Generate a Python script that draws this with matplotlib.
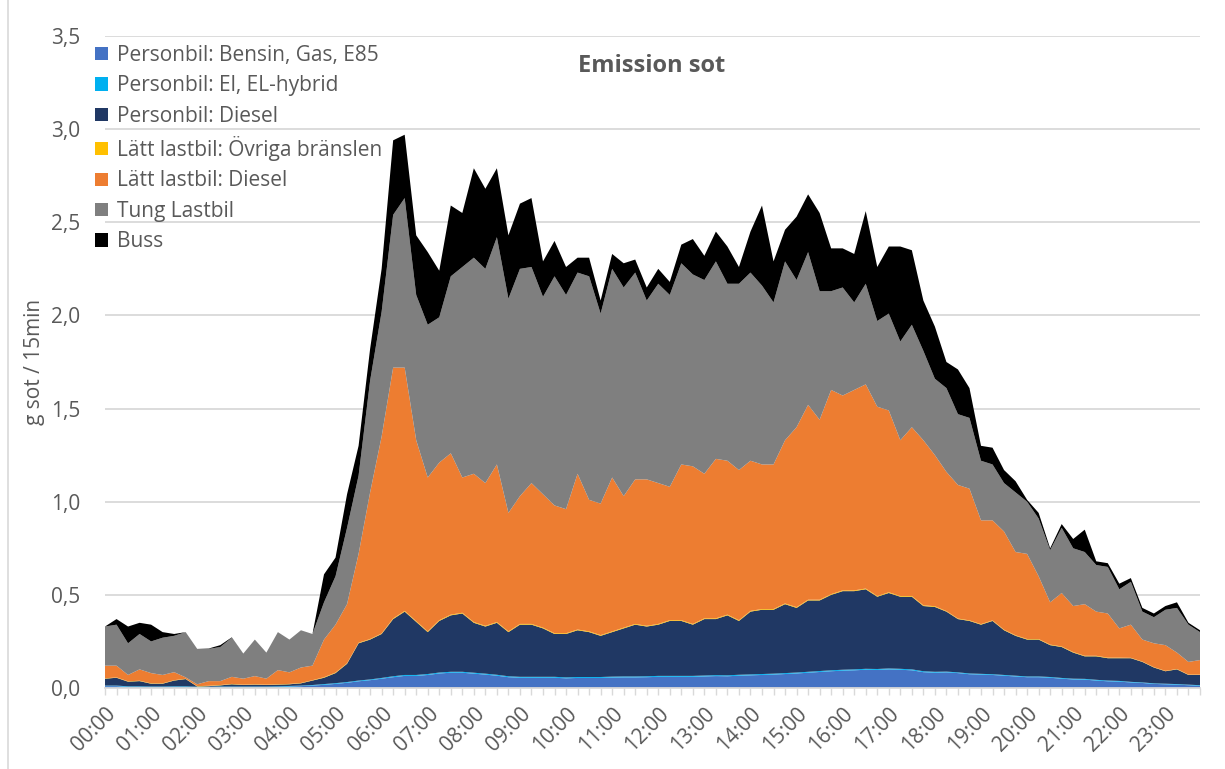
import numpy as np
import matplotlib
matplotlib.use("Agg")
import matplotlib.pyplot as plt
from matplotlib.patches import Patch

plt.rcParams['font.family'] = ['Open Sans', 'DejaVu Sans']

# 15-minute intervals over one day
times = [f"{h:02d}:{m:02d}" for h in range(24) for m in (0, 15, 30, 45)]
hour_labels = [f"{h:02d}:00" for h in range(24)]

series_names = [
    "Personbil: Bensin, Gas, E85",
    "Personbil: El, EL-hybrid",
    "Personbil: Diesel",
    "Lätt lastbil: Övriga bränslen",
    "Lätt lastbil: Diesel",
    "Tung Lastbil",
    "Buss",
]
series_colors = ["#4472C4", "#00B0F0", "#203864", "#FFC000", "#ED7D31", "#7F7F7F", "#000000"]

# g sot per 15 min
pb_bensin = [
    0.010, 0.010, 0.006, 0.006, 0.005, 0.005, 0.006, 0.006, 0.004, 0.004, 0.005, 0.005,
    0.005, 0.005, 0.005, 0.006, 0.008, 0.010, 0.013, 0.017, 0.022, 0.028, 0.036, 0.042,
    0.050, 0.058, 0.065, 0.065, 0.070, 0.078, 0.082, 0.082, 0.077, 0.072, 0.066, 0.058,
    0.055, 0.055, 0.055, 0.055, 0.052, 0.054, 0.054, 0.054, 0.056, 0.057, 0.057, 0.058,
    0.060, 0.060, 0.060, 0.060, 0.062, 0.064, 0.063, 0.066, 0.068, 0.070, 0.072, 0.075,
    0.078, 0.082, 0.086, 0.090, 0.093, 0.095, 0.098, 0.097, 0.100, 0.098, 0.095, 0.085,
    0.082, 0.084, 0.080, 0.074, 0.072, 0.070, 0.066, 0.062, 0.058, 0.058, 0.055, 0.050,
    0.046, 0.045, 0.040, 0.036, 0.034, 0.030, 0.027, 0.022, 0.020, 0.018, 0.015, 0.012,
]
pb_el = [
    0.003, 0.003, 0.003, 0.003, 0.003, 0.003, 0.003, 0.003, 0.003, 0.003, 0.003, 0.003,
    0.003, 0.003, 0.003, 0.003, 0.003, 0.003, 0.003, 0.004, 0.004, 0.004, 0.004, 0.004,
    0.004, 0.005, 0.005, 0.005, 0.005, 0.005, 0.005, 0.005, 0.005, 0.005, 0.005, 0.005,
    0.005, 0.005, 0.005, 0.005, 0.005, 0.005, 0.005, 0.005, 0.005, 0.005, 0.005, 0.005,
    0.005, 0.005, 0.005, 0.005, 0.005, 0.005, 0.005, 0.005, 0.005, 0.005, 0.005, 0.005,
    0.005, 0.005, 0.005, 0.005, 0.005, 0.005, 0.005, 0.005, 0.005, 0.005, 0.005, 0.005,
    0.005, 0.004, 0.004, 0.004, 0.004, 0.004, 0.004, 0.004, 0.004, 0.004, 0.004, 0.004,
    0.004, 0.004, 0.004, 0.004, 0.004, 0.003, 0.003, 0.003, 0.003, 0.003, 0.003, 0.003,
]
pb_diesel = [
    0.037, 0.042, 0.025, 0.028, 0.015, 0.015, 0.031, 0.039, 0.001, 0.003, 0.006, 0.012,
    0.008, 0.010, 0.008, 0.009, 0.009, 0.012, 0.024, 0.034, 0.054, 0.098, 0.200, 0.214,
    0.236, 0.307, 0.340, 0.285, 0.225, 0.277, 0.303, 0.313, 0.268, 0.253, 0.279, 0.237,
    0.280, 0.280, 0.260, 0.230, 0.233, 0.251, 0.241, 0.221, 0.239, 0.258, 0.278, 0.267,
    0.275, 0.295, 0.295, 0.275, 0.303, 0.301, 0.322, 0.289, 0.337, 0.345, 0.343, 0.370,
    0.347, 0.383, 0.379, 0.405, 0.422, 0.420, 0.427, 0.388, 0.405, 0.387, 0.390, 0.350,
    0.348, 0.322, 0.286, 0.282, 0.264, 0.286, 0.240, 0.214, 0.198, 0.198, 0.171, 0.166,
    0.140, 0.121, 0.126, 0.120, 0.122, 0.127, 0.110, 0.085, 0.067, 0.079, 0.052, 0.055,
]
ll_ovriga = [
    0.002, 0.002, 0.002, 0.002, 0.002, 0.002, 0.002, 0.002, 0.002, 0.002, 0.002, 0.002,
    0.002, 0.002, 0.002, 0.002, 0.002, 0.002, 0.002, 0.003, 0.003, 0.003, 0.003, 0.003,
    0.003, 0.004, 0.004, 0.004, 0.004, 0.004, 0.004, 0.004, 0.004, 0.004, 0.004, 0.004,
    0.004, 0.004, 0.004, 0.004, 0.004, 0.004, 0.004, 0.004, 0.004, 0.004, 0.004, 0.004,
    0.004, 0.004, 0.004, 0.004, 0.004, 0.004, 0.004, 0.004, 0.004, 0.004, 0.004, 0.004,
    0.004, 0.004, 0.004, 0.004, 0.004, 0.004, 0.004, 0.004, 0.004, 0.004, 0.004, 0.004,
    0.004, 0.003, 0.003, 0.003, 0.003, 0.003, 0.003, 0.003, 0.003, 0.003, 0.003, 0.003,
    0.003, 0.003, 0.003, 0.003, 0.003, 0.002, 0.002, 0.002, 0.002, 0.002, 0.002, 0.002,
]
ll_diesel = [
    0.068, 0.063, 0.034, 0.061, 0.055, 0.045, 0.043, 0.007, 0.010, 0.025, 0.021, 0.038,
    0.032, 0.044, 0.032, 0.076, 0.062, 0.083, 0.078, 0.202, 0.257, 0.317, 0.477, 0.787,
    1.057, 1.346, 1.306, 0.971, 0.826, 0.846, 0.866, 0.726, 0.796, 0.766, 0.846, 0.636,
    0.686, 0.756, 0.716, 0.686, 0.666, 0.836, 0.706, 0.706, 0.826, 0.706, 0.776, 0.786,
    0.756, 0.716, 0.836, 0.846, 0.776, 0.856, 0.826, 0.806, 0.806, 0.776, 0.776, 0.876,
    0.966, 1.046, 0.966, 1.096, 1.046, 1.076, 1.096, 1.016, 0.976, 0.836, 0.906, 0.886,
    0.811, 0.747, 0.717, 0.707, 0.557, 0.537, 0.527, 0.447, 0.457, 0.337, 0.227, 0.287,
    0.247, 0.277, 0.237, 0.237, 0.157, 0.178, 0.118, 0.128, 0.138, 0.088, 0.068, 0.078,
]
tung_lastbil = [
    0.210, 0.220, 0.170, 0.190, 0.170, 0.200, 0.195, 0.243, 0.190, 0.173, 0.183, 0.210,
    0.135, 0.196, 0.140, 0.204, 0.176, 0.200, 0.170, 0.200, 0.260, 0.410, 0.420, 0.600,
    0.670, 0.820, 0.910, 0.780, 0.820, 0.780, 0.950, 1.130, 1.160, 1.150, 1.220, 1.150,
    1.220, 1.160, 1.060, 1.230, 1.150, 1.080, 1.200, 1.020, 1.120, 1.120, 1.110, 0.960,
    1.070, 1.030, 1.080, 1.030, 1.040, 1.060, 0.950, 1.000, 1.010, 0.960, 0.870, 0.960,
    0.790, 0.820, 0.690, 0.530, 0.580, 0.470, 0.540, 0.460, 0.520, 0.530, 0.550, 0.480,
    0.410, 0.450, 0.380, 0.380, 0.320, 0.300, 0.260, 0.320, 0.280, 0.310, 0.280, 0.350,
    0.310, 0.280, 0.250, 0.250, 0.210, 0.230, 0.150, 0.140, 0.190, 0.240, 0.200, 0.150,
]
buss = [
    0.000, 0.030, 0.090, 0.060, 0.090, 0.030, 0.010, 0.000, 0.000, 0.002, 0.010, 0.002,
    0.000, 0.000, 0.000, 0.000, 0.000, 0.000, 0.000, 0.150, 0.100, 0.180, 0.160, 0.170,
    0.230, 0.400, 0.340, 0.320, 0.390, 0.250, 0.380, 0.290, 0.480, 0.430, 0.370, 0.340,
    0.350, 0.370, 0.190, 0.190, 0.150, 0.080, 0.100, 0.070, 0.080, 0.130, 0.070, 0.070,
    0.080, 0.070, 0.100, 0.190, 0.130, 0.160, 0.200, 0.090, 0.220, 0.430, 0.220, 0.170,
    0.340, 0.310, 0.420, 0.230, 0.210, 0.260, 0.390, 0.290, 0.360, 0.510, 0.400, 0.270,
    0.280, 0.140, 0.240, 0.160, 0.080, 0.090, 0.070, 0.060, 0.010, 0.030, 0.010, 0.020,
    0.050, 0.120, 0.020, 0.020, 0.030, 0.020, 0.020, 0.020, 0.020, 0.030, 0.010, 0.010,
]

y_ticks = [0.0, 0.5, 1.0, 1.5, 2.0, 2.5, 3.0, 3.5]
text_color = "#595959"
grid_color = "#D9D9D9"
font_size = 15

fig = plt.figure(figsize=(12.25, 7.69), dpi=100)
ax = fig.add_axes([105 / 1225, 81 / 769, 1095 / 1225, 652 / 769])

x = np.arange(len(times))
ax.stackplot(x, pb_bensin, pb_el, pb_diesel, ll_ovriga, ll_diesel, tung_lastbil, buss,
             colors=series_colors, linewidth=0, zorder=2)

ax.set_xlim(0, len(times) - 1)
ax.set_ylim(0, 3.5)
ax.set_yticks(y_ticks)
ax.set_yticklabels([f"{v:.1f}".replace(".", ",") for v in y_ticks],
                   fontsize=font_size, color=text_color)
ax.yaxis.grid(True, color=grid_color, linewidth=1.3, zorder=0)
ax.set_axisbelow(True)
ax.tick_params(axis="y", length=0, pad=18)

ax.set_xticks(x[::4])
ax.set_xticklabels(hour_labels, rotation=45, ha="right", va="top",
                   rotation_mode="anchor", fontsize=font_size, color=text_color)
ax.set_xticks(x, minor=True)
ax.tick_params(axis="x", which="both", length=5, color=grid_color, width=1.0, pad=6)

for side in ("left", "right", "top"):
    ax.spines[side].set_visible(False)
ax.spines["bottom"].set_color(grid_color)
ax.spines["bottom"].set_linewidth(1.3)

ax.set_ylabel("g sot / 15min", fontsize=font_size, color=text_color, labelpad=4)

ax.text(0.499, 0.954, "Emission sot", transform=ax.transAxes, ha="center", va="center",
        fontsize=17, fontweight="bold", color=text_color)

handles = [Patch(facecolor=c, edgecolor="none") for c in series_colors]
leg = fig.legend(handles, series_names, loc="upper left", bbox_to_anchor=(95 / 1225, 1 - 45 / 769),
                 frameon=False, fontsize=font_size, handlelength=0.6, handleheight=0.6,
                 handletextpad=0.45, labelspacing=0.45, borderaxespad=0, borderpad=0)
for t in leg.get_texts():
    t.set_color(text_color)

# chart area frame on the left
fig.add_artist(plt.Line2D([8 / 1225, 8 / 1225], [0, 1], transform=fig.transFigure,
                          color=grid_color, linewidth=1.2))

fig.savefig("out.png", dpi=100)
